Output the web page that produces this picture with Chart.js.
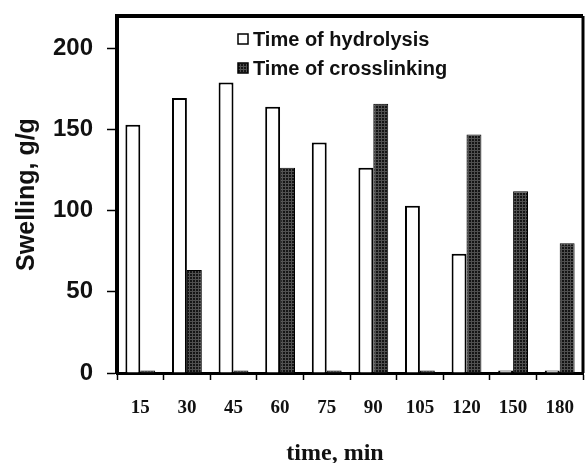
<!DOCTYPE html>
<html>
<head>
<meta charset="utf-8">
<script src="https://cdn.jsdelivr.net/npm/chart.js@4/dist/chart.umd.min.js"></script>
<style>
  html, body {margin: 0; padding: 0; background: #fff;}
  #wrap {width: 587px; height: 463px;}
</style>
</head>
<body>
<div id="wrap"><canvas id="chart" width="587" height="463"></canvas></div>
<script>
const times = ['15', '30', '45', '60', '75', '90', '105', '120', '150', '180'];
const hydrolysis = [153, 169.5, 179, 164, 142, 126.5, 103, 73.5, 1.5, 1.5];
const crosslinking = [1.5, 63.5, 1.5, 126.5, 1.5, 166, 1.5, 147, 112, 80];
const seriesNames = ['Time of hydrolysis', 'Time of crosslinking'];
const yTicks = [0, 50, 100, 150, 200];

// dark bars have a fine grid texture in the original
const makePattern = () => {
  const c = document.createElement('canvas');
  c.width = 3;
  c.height = 3;
  const g = c.getContext('2d');
  g.fillStyle = '#151515';
  g.fillRect(0, 0, 3, 3);
  g.fillStyle = '#505050';
  g.fillRect(0, 0, 3, 1);
  g.fillRect(0, 0, 1, 3);
  return g.createPattern(c, 'repeat');
};
const darkFill = makePattern();

const sans = '"Liberation Sans", Arial, sans-serif';
const serif = '"Liberation Serif", "Times New Roman", serif';

// frame on top/right + legend inside plot area
const framePlugin = {
  id: 'frame',
  afterDraw(chart) {
    const {ctx, chartArea: a} = chart;
    ctx.save();
    ctx.strokeStyle = '#000';
    ctx.lineWidth = 4;
    ctx.beginPath();
    ctx.moveTo(a.left - 2, a.top);
    ctx.lineTo(a.right, a.top);
    ctx.stroke();
    ctx.lineWidth = 3;
    ctx.beginPath();
    ctx.moveTo(a.right, a.top);
    ctx.lineTo(a.right, a.bottom);
    ctx.stroke();

    ctx.font = 'bold 20px ' + sans;
    ctx.textBaseline = 'middle';
    const fills = ['#fff', darkFill];
    seriesNames.forEach((name, i) => {
      const y = 39 + i * 29;
      ctx.fillStyle = fills[i];
      ctx.fillRect(238, y - 5, 10, 10);
      ctx.lineWidth = 1.5;
      ctx.strokeStyle = '#000';
      ctx.strokeRect(238, y - 5, 10, 10);
      ctx.fillStyle = '#111';
      ctx.fillText(name, 253, y + 1);
    });
    ctx.restore();
  },
};

new Chart(document.getElementById('chart'), {
  type: 'bar',
  data: {
    labels: times,
    datasets: [
      {
        label: seriesNames[0],
        data: hydrolysis,
        backgroundColor: '#fff',
        borderColor: '#000',
        borderWidth: 2,
        barPercentage: 1,
        categoryPercentage: 0.64,
      },
      {
        label: seriesNames[1],
        data: crosslinking,
        backgroundColor: darkFill,
        borderColor: '#000',
        borderWidth: 1,
        barPercentage: 1,
        categoryPercentage: 0.64,
      },
    ],
  },
  options: {
    responsive: false,
    animation: false,
    layout: {padding: {top: 16, right: 4, left: 0, bottom: 0}},
    plugins: {
      legend: {display: false},
      tooltip: {enabled: false},
    },
    scales: {
      x: {
        border: {display: true, color: '#000', width: 3},
        grid: {
          offset: true,
          drawOnChartArea: false,
          drawTicks: true,
          tickLength: 7,
          tickWidth: 1.5,
          tickColor: '#000',
        },
        ticks: {
          color: '#111',
          padding: 17,
          maxRotation: 0,
          font: {family: serif, size: 19, weight: 'bold'},
        },
        title: {
          display: true,
          // trailing nbsp pushes the title a bit left, as in the original
          text: 'time, min\u00a0\u00a0\u00a0\u00a0\u00a0',
          color: '#111',
          padding: {top: 0, bottom: -5},
          font: {family: serif, size: 24, weight: 'bold'},
        },
        afterFit: (scale) => {
          scale.height = 463 - 373;
          scale.paddingLeft = 0;
          scale.paddingRight = 0;
        },
      },
      y: {
        min: 0,
        max: 220,
        border: {display: true, color: '#000', width: 4},
        grid: {
          drawOnChartArea: false,
          drawTicks: true,
          tickLength: 10,
          tickWidth: 1.5,
          tickColor: '#000',
        },
        ticks: {
          stepSize: 50,
          color: '#111',
          padding: 14,
          font: {family: sans, size: 24, weight: 'bold'},
        },
        afterBuildTicks: (scale) => {
          scale.ticks = yTicks.map((v) => ({value: v}));
        },
        title: {
          display: true,
          text: 'Swelling, g/g',
          color: '#111',
          padding: {top: 12, bottom: 0},
          font: {family: sans, size: 25, weight: 'bold'},
        },
        afterFit: (scale) => {
          scale.width = 117;
          scale.paddingTop = 0;
          scale.paddingBottom = 0;
        },
      },
    },
  },
  plugins: [framePlugin],
});
</script>
</body>
</html>
